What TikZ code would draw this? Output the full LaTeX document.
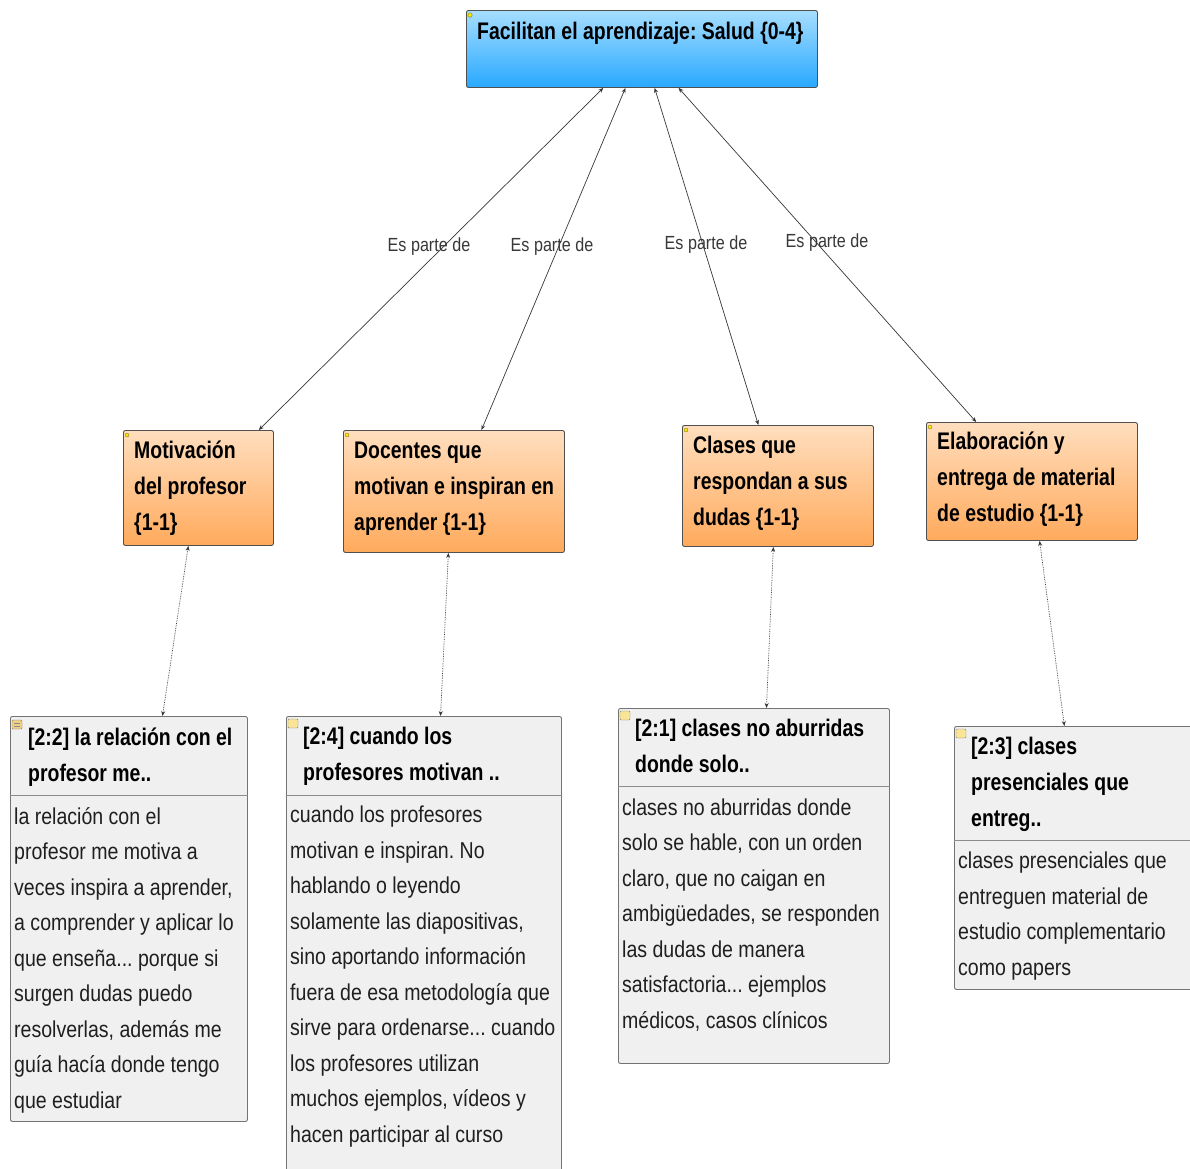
\documentclass[tikz,border=0pt]{standalone}
\usepackage{fontspec}
\setmainfont{Liberation Sans}[FakeStretch=0.85]
\newfontfamily\headfont{Liberation Sans}[FakeStretch=0.81]
\usetikzlibrary{calc,arrows.meta}
\frenchspacing

\definecolor{bluetop}{RGB}{166,222,255}
\definecolor{bluebot}{RGB}{40,168,255}
\definecolor{orgtop}{RGB}{255,222,190}
\definecolor{orgbot}{RGB}{255,170,92}
\definecolor{quotefill}{RGB}{240,240,240}
\definecolor{edgecol}{RGB}{55,55,55}
\definecolor{boxline}{RGB}{80,80,80}
\definecolor{iconfill}{RGB}{250,228,150}

\tikzset{
  box/.style={draw=boxline, rounded corners=2pt, line width=0.9pt, inner sep=0pt, anchor=north west},
  codebox/.style={box, top color=bluetop, bottom color=bluebot},
  catbox/.style={box, top color=orgtop, bottom color=orgbot},
  quotebox/.style={box, fill=quotefill, draw=black!55},
  % multi-line texts are placed by the baseline of their last line
  headtxt/.style={font=\fontsize{24}{36}\selectfont\headfont\bfseries, align=left, anchor=base west, inner sep=0pt},
  bodytxt/.style={font=\fontsize{23}{35.5}\selectfont, align=left, anchor=base west, inner sep=0pt, text=black!88},
  rel/.style={draw=edgecol, line width=0.7pt, {Stealth[length=5pt,width=4pt]}-{Stealth[length=5pt,width=4pt]}},
  link/.style={rel, densely dotted},
  lbl/.style={font=\fontsize{19}{22}\selectfont, text=black!78, inner sep=0pt},
  pin/.style={fill=yellow!90!orange, draw=olive!70!black, line width=0.3pt},
  qicon/.style={fill=iconfill, draw=black!50, line width=0.4pt, rounded corners=1pt}
}

\begin{document}
\begin{tikzpicture}[x=1pt, y=-1pt]
\useasboundingbox[fill=white] (0,0) rectangle (1190,1168);

% code
\node[codebox, minimum width=351pt, minimum height=77pt] (code) at (466,10) {};
\node[headtxt] at (477,39) {Facilitan el aprendizaje: Salud \{0-4\}};
\fill[pin] (470,15) circle (2.2pt);

% categories
\node[catbox, minimum width=150pt, minimum height=115pt] (c1) at (123,430) {};
\node[headtxt] at (134,530) {Motivación\\del profesor\\\{1-1\}};
\fill[pin] (127,435) circle (2pt);

\node[catbox, minimum width=221pt, minimum height=122pt] (c2) at (343,430) {};
\node[headtxt] at (354,530) {Docentes que\\motivan e inspiran en\\aprender \{1-1\}};
\fill[pin] (347,435) circle (2pt);

\node[catbox, minimum width=191pt, minimum height=121pt] (c3) at (682,425) {};
\node[headtxt] at (693,525) {Clases que\\respondan a sus\\dudas \{1-1\}};
\fill[pin] (686,430) circle (2pt);

\node[catbox, minimum width=211pt, minimum height=118pt] (c4) at (926,422) {};
\node[headtxt] at (937,521) {Elaboración y\\entrega de material\\de estudio \{1-1\}};
\fill[pin] (930,427) circle (2pt);

% quotations
\node[quotebox, minimum width=237pt, minimum height=405pt] (q1) at (10,716) {};
\draw[black!45] ($(q1.north west)+(0,79)$) -- ($(q1.north east)+(0,79)$);
\node[headtxt] at (28,781) {[2:2] la relación con el\\profesor me..};
\node[bodytxt] at (14,1108) {la relación con el\\profesor me motiva a\\veces inspira a aprender,\\a comprender y aplicar lo\\que enseña... porque si\\surgen dudas puedo\\resolverlas, además me\\guía hacía donde tengo\\que estudiar};
\draw[qicon, fill=iconfill!80!brown] (12,720) rectangle (22,729);
\draw[black!45, line width=0.4pt] (14,723) -- (20,723) (14,726) -- (20,726);

\node[quotebox, minimum width=275pt, minimum height=470pt] (q2) at (286,716) {};
\draw[black!45] ($(q2.north west)+(0,79)$) -- ($(q2.north east)+(0,79)$);
\node[headtxt] at (303,780) {[2:4] cuando los\\profesores motivan ..};
\node[bodytxt] at (290,1142) {cuando los profesores\\motivan e inspiran. No\\hablando o leyendo\\solamente las diapositivas,\\sino aportando información\\fuera de esa metodología que\\sirve para ordenarse... cuando\\los profesores utilizan\\muchos ejemplos, vídeos y\\hacen participar al curso};
\draw[qicon] (288,719) rectangle (298,728);

\node[quotebox, minimum width=271pt, minimum height=355pt] (q3) at (618,708) {};
\draw[black!45] ($(q3.north west)+(0,78)$) -- ($(q3.north east)+(0,78)$);
\node[headtxt] at (635,772) {[2:1] clases no aburridas\\donde solo..};
\node[bodytxt] at (622,1028) {clases no aburridas donde\\solo se hable, con un orden\\claro, que no caigan en\\ambigüedades, se responden\\las dudas de manera\\satisfactoria... ejemplos\\médicos, casos clínicos};
\draw[qicon] (620,711) rectangle (630,720);

\node[quotebox, minimum width=250pt, minimum height=263pt] (q4) at (954,726) {};
\draw[black!45] ($(q4.north west)+(0,114)$) -- ($(q4.north east)+(0,114)$);
\node[headtxt] at (971,826) {[2:3] clases\\presenciales que\\entreg..};
\node[bodytxt] at (958,975) {clases presenciales que\\entreguen material de\\estudio complementario\\como papers};
\draw[qicon] (956,729) rectangle (966,738);

% "Es parte de" relations
\draw[rel] ($(c1.north west)!0.90!(c1.north east)$) -- ($(code.south west)!0.390!(code.south east)$)
  node[lbl] at (429,247) {Es parte de};
\draw[rel] ($(c2.north west)!0.624!(c2.north east)$) -- ($(code.south west)!0.453!(code.south east)$)
  node[lbl] at (552,247) {Es parte de};
\draw[rel] ($(c3.north west)!0.398!(c3.north east)$) -- ($(code.south west)!0.536!(code.south east)$)
  node[lbl] at (706,245) {Es parte de};
\draw[rel] ($(c4.north west)!0.237!(c4.north east)$) -- ($(code.south west)!0.604!(code.south east)$)
  node[lbl] at (827,243) {Es parte de};

% quotation links
\draw[link] ($(q1.north west)!0.641!(q1.north east)$) -- ($(c1.south west)!0.433!(c1.south east)$);
\draw[link] ($(q2.north west)!0.560!(q2.north east)$) -- ($(c2.south west)!0.475!(c2.south east)$);
\draw[link] ($(q3.north west)!0.546!(q3.north east)$) -- ($(c3.south west)!0.476!(c3.south east)$);
\draw[link] ($(q4.north west)!0.440!(q4.north east)$) -- ($(c4.south west)!0.536!(c4.south east)$);
\end{tikzpicture}
\end{document}
